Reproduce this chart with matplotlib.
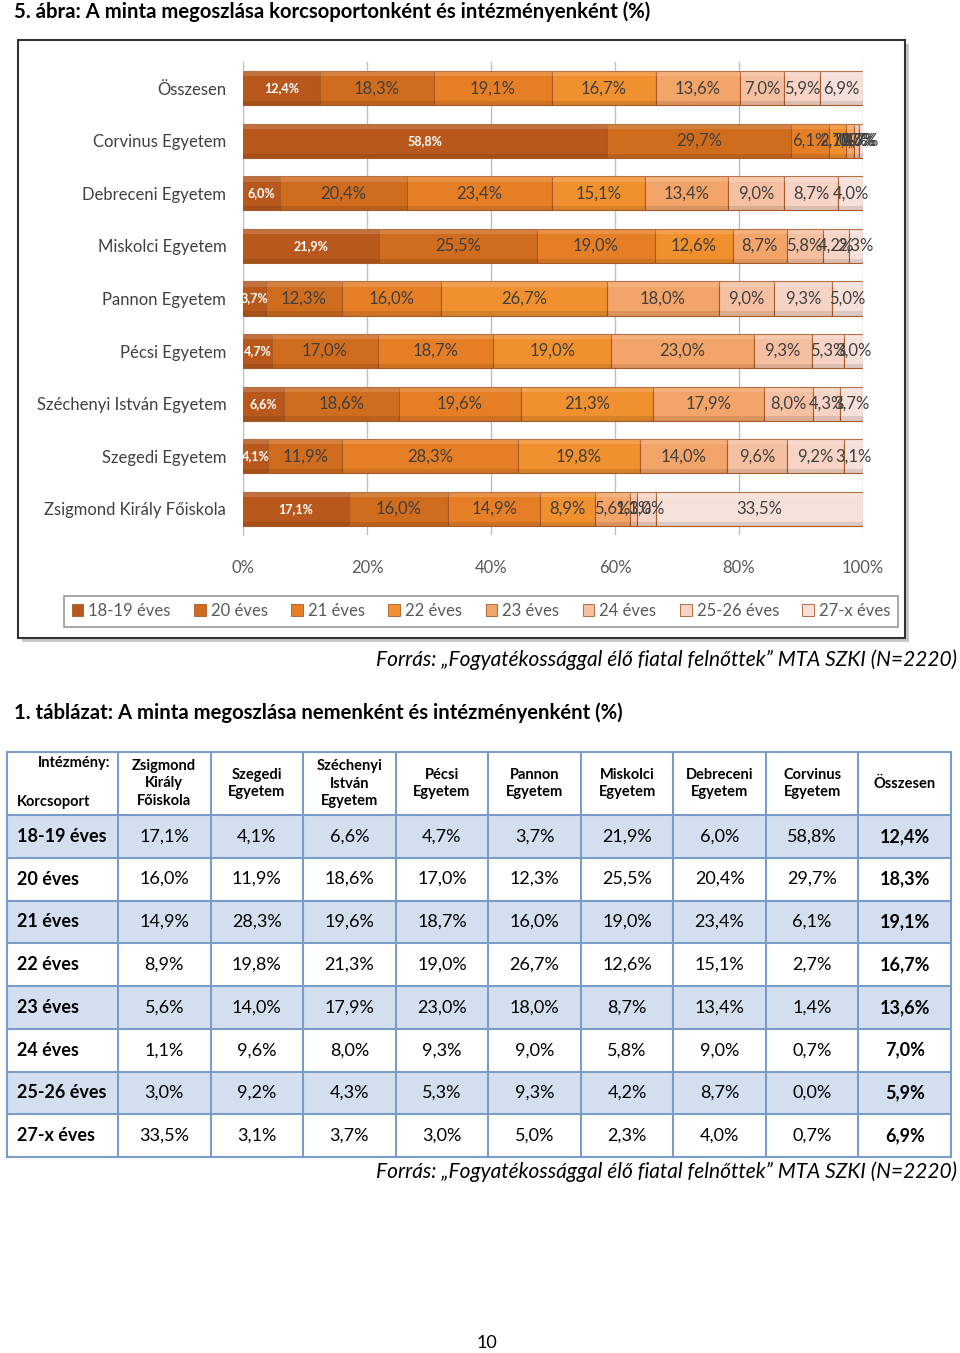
import numpy as np
import matplotlib.pyplot as plt
from matplotlib.patches import Rectangle, Patch

plt.rcParams['font.family'] = ['Lato', 'DejaVu Sans']

# intézmények a táblázat sorrendjében
intezmenyek = ['Zsigmond Király Főiskola', 'Szegedi Egyetem', 'Széchenyi István Egyetem',
               'Pécsi Egyetem', 'Pannon Egyetem', 'Miskolci Egyetem',
               'Debreceni Egyetem', 'Corvinus Egyetem', 'Összesen']
fejlec = ['Zsigmond\nKirály\nFőiskola', 'Szegedi\nEgyetem', 'Széchenyi\nIstván\nEgyetem',
          'Pécsi\nEgyetem', 'Pannon\nEgyetem', 'Miskolci\nEgyetem',
          'Debreceni\nEgyetem', 'Corvinus\nEgyetem', 'Összesen']
korcsoportok = ['18-19 éves', '20 éves', '21 éves', '22 éves',
                '23 éves', '24 éves', '25-26 éves', '27-x éves']

ev_18_19 = [17.1, 4.1, 6.6, 4.7, 3.7, 21.9, 6.0, 58.8, 12.4]
ev_20 = [16.0, 11.9, 18.6, 17.0, 12.3, 25.5, 20.4, 29.7, 18.3]
ev_21 = [14.9, 28.3, 19.6, 18.7, 16.0, 19.0, 23.4, 6.1, 19.1]
ev_22 = [8.9, 19.8, 21.3, 19.0, 26.7, 12.6, 15.1, 2.7, 16.7]
ev_23 = [5.6, 14.0, 17.9, 23.0, 18.0, 8.7, 13.4, 1.4, 13.6]
ev_24 = [1.1, 9.6, 8.0, 9.3, 9.0, 5.8, 9.0, 0.7, 7.0]
ev_25_26 = [3.0, 9.2, 4.3, 5.3, 9.3, 4.2, 8.7, 0.0, 5.9]
ev_27_x = [33.5, 3.1, 3.7, 3.0, 5.0, 2.3, 4.0, 0.7, 6.9]

szinek = ['#b8581c', '#d06c1e', '#e67e26', '#f0902e',
          '#f3a468', '#f5c0a2', '#f6d3c5', '#f5e0da']

adat = np.array([ev_18_19, ev_20, ev_21, ev_22, ev_23, ev_24, ev_25_26, ev_27_x])
forras = 'Forrás: „Fogyatékossággal élő fiatal felnőttek” MTA SZKI (N=2220)'


def pct(v):
    return ('%.1f%%' % v).replace('.', ',')


W, H = 960, 1353
fig = plt.figure(figsize=(W / 100, H / 100), dpi=100)

# háttér tengely pixel koordinátákkal
bg = fig.add_axes([0, 0, 1, 1])
bg.set_xlim(0, W)
bg.set_ylim(H, 0)
bg.axis('off')

bg.text(14, 12, '5. ábra: A minta megoszlása korcsoportonként és intézményenként (%)',
        fontsize=14.6, fontweight='bold', va='center', ha='left')

# diagram keret árnyékkal
bg.add_patch(Rectangle((22, 44), 887, 598, fc='#c8c8c8', ec='none'))
bg.add_patch(Rectangle((18, 40), 887, 598, fc='white', ec='#333333', lw=1.5))

bg.text(957, 660, forras, fontsize=15, style='italic', ha='right', va='center')
bg.text(14, 713, '1. táblázat: A minta megoszlása nemenként és intézményenként (%)',
        fontsize=14.6, fontweight='bold', va='center', ha='left')

# ---- diagram ----
ax = fig.add_axes([243 / W, 1 - 535 / H, 620 / W, 473 / H])
ax.set_zorder(2)
ax.patch.set_alpha(0)

sor = adat[:, ::-1]  # Összesen felül
sor = sor / sor.sum(axis=0) * 100
cimkek = intezmenyek[::-1]
y = np.arange(len(cimkek))
bal = np.zeros(len(cimkek))
h = 0.65
for k in range(len(korcsoportok)):
    w = sor[k]
    ax.barh(y, w, left=bal, height=h, color=szinek[k],
            edgecolor='#a85a28', linewidth=0.8, zorder=3)
    # kis térhatás
    ax.barh(y - h / 2 + 0.05, w, left=bal, height=0.10, color='white', alpha=0.15,
            linewidth=0, zorder=4)
    ax.barh(y + h / 2 - 0.04, w, left=bal, height=0.08, color='black', alpha=0.10,
            linewidth=0, zorder=4)
    for i in range(len(y)):
        x = bal[i] + w[i] / 2
        if k == 0:
            ax.text(x, y[i], pct(adat[k, ::-1][i]), ha='center', va='center',
                    fontsize=9, fontweight='bold', color='white', zorder=5)
        else:
            ax.text(x, y[i], pct(adat[k, ::-1][i]), ha='center', va='center',
                    fontsize=12, color='#404040', zorder=5)
    bal = bal + w

ax.set_xlim(0, 100)
ax.set_ylim(len(cimkek) - 0.5, -0.5)
ax.set_yticks(y)
ax.set_yticklabels(cimkek, fontsize=12, color='#404040')
ax.set_xticks(np.arange(0, 101, 20))
ax.set_xticklabels(['%d%%' % v for v in range(0, 101, 20)], fontsize=12, color='#595959')
ax.tick_params(axis='y', length=0, pad=12)
ax.tick_params(axis='x', length=0, pad=18)
ax.grid(axis='x', color='#bfbfbf', lw=1, zorder=0)
for s in ['top', 'right', 'bottom']:
    ax.spines[s].set_visible(False)
ax.spines['left'].set_color('#bfbfbf')

kezelok = [Patch(facecolor=szinek[k], edgecolor='#a85a28', lw=0.6) for k in range(len(korcsoportok))]
leg = fig.legend(kezelok, korcsoportok, loc='center',
                 bbox_to_anchor=(64 / W, 1 - 627 / H, 834 / W, 32 / H), mode='expand',
                 ncol=8, frameon=True, fancybox=False, edgecolor='#7f7f7f', fontsize=12,
                 handlelength=0.7, handleheight=0.7, handletextpad=0.3, borderaxespad=0,
                 borderpad=0.45)
leg.get_frame().set_linewidth(1.2)
for t in leg.get_texts():
    t.set_color('#595959')

# ---- táblázat ----
x0, x1 = 7, 118
cw = (951 - x1) / 9
ytop, yhead = 752, 815
rh = (1157 - yhead) / 8
kek = '#d3dfee'
vonal = '#7a9cc8'

for i in range(len(korcsoportok)):
    yy = yhead + i * rh
    if i % 2 == 0:
        bg.add_patch(Rectangle((x0, yy), 951 - x0, rh, fc=kek, ec='none'))
    bg.text(17, yy + rh / 2, korcsoportok[i], fontsize=13, fontweight='bold',
            ha='left', va='center')
    for j in range(9):
        bg.text(x1 + cw * (j + 0.5), yy + rh / 2, pct(adat[i, j]), fontsize=13,
                ha='center', va='center', fontweight='bold' if j == 8 else 'normal')

# rácsvonalak
for yy in [ytop, yhead] + [yhead + rh * (i + 1) for i in range(8)]:
    bg.plot([x0, 951], [yy, yy], color=vonal, lw=1.5)
for xx in [x0, x1] + [x1 + cw * (j + 1) for j in range(9)]:
    bg.plot([xx, xx], [ytop, 1157], color=vonal, lw=1.5)

bg.text(110, 763, 'Intézmény:', fontsize=10.5, fontweight='bold', ha='right', va='center')
bg.text(17, 802, 'Korcsoport', fontsize=10.5, fontweight='bold', ha='left', va='center')
for j in range(9):
    bg.text(x1 + cw * (j + 0.5), (ytop + yhead) / 2, fejlec[j], fontsize=10.5,
            fontweight='bold', ha='center', va='center', linespacing=1.3)

bg.text(957, 1172, forras, fontsize=15, style='italic', ha='right', va='center')
bg.text(487, 1343, '10', fontsize=13, ha='center', va='center')

fig.savefig('out.png', dpi=100)
